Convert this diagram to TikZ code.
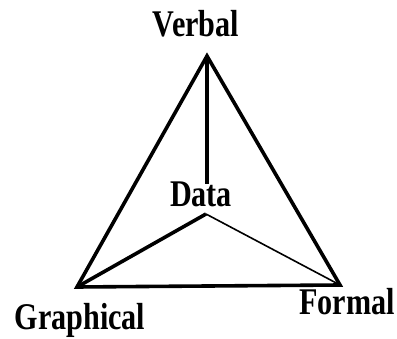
\documentclass[tikz,border=0pt]{standalone}
\usepackage{fontspec}
\setmainfont{Liberation Serif}
\usepackage{xcolor}
\definecolor{inkblack}{HTML}{000000}
\newcommand{\cornerlabel}[1]{\scalebox{1.04}[1.3]{\bfseries #1}}

\begin{document}
\begin{tikzpicture}[x=1pt,y=-1pt,font=\fontsize{29}{30}\selectfont,
    sideline/.style={draw=inkblack,line width=3.6pt,line join=miter},
    spokethick/.style={draw=inkblack,line width=3.6pt},
    spokethin/.style={draw=inkblack,line width=1.6pt},
    cornertext/.style={anchor=base,inner sep=0pt,text=inkblack}]
  \useasboundingbox (0,0) rectangle (397,339);

  % Corners of the triangle and the hub under the centre label.
  \coordinate (verbaltip) at (207,56);
  \coordinate (graphtip) at (77,287);
  \coordinate (formaltip) at (340,285);
  \coordinate (datahub) at (206,214);
  \coordinate (datatop) at (207,184);

  % Labels.
  \node[cornertext] (verbal) at (196,37) {\cornerlabel{Verbal}};
  \node[cornertext] (data) at (201,207) {\cornerlabel{Data}};
  \node[cornertext] (graphical) at (80,330) {\cornerlabel{Graphical}};
  \node[cornertext] (formal) at (347,315) {\cornerlabel{Formal}};

  % Outer triangle.
  \draw[sideline] (verbaltip) -- (graphtip) -- (formaltip) -- cycle;

  % Spokes from the centre to the corners.
  \draw[spokethick] (datatop) -- (verbaltip);
  \draw[spokethick] (datahub) -- (graphtip);
  \draw[spokethin] (datahub) -- (formaltip);
\end{tikzpicture}
\end{document}
